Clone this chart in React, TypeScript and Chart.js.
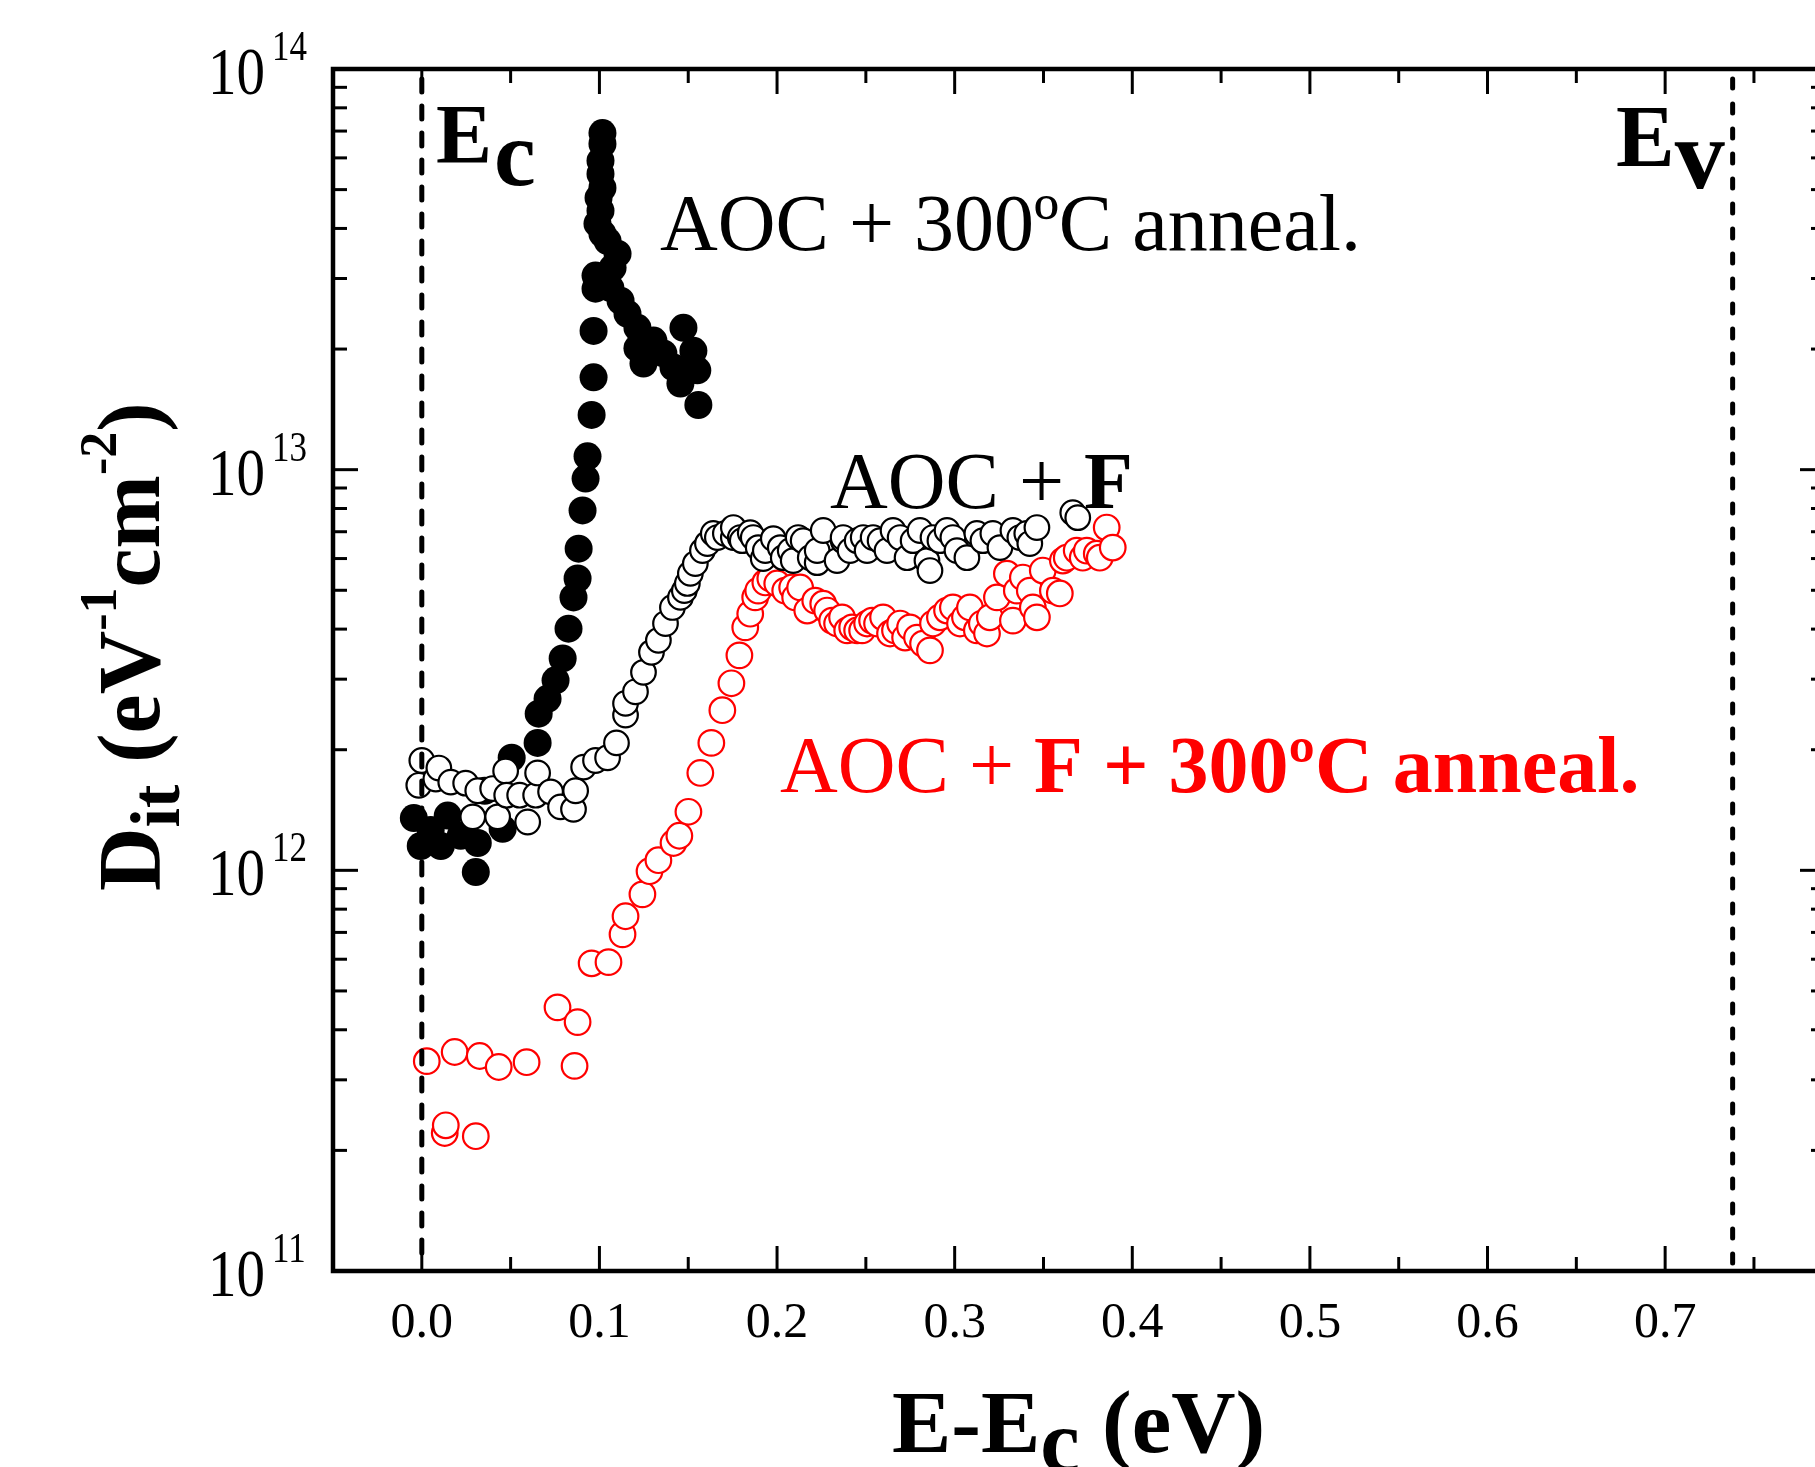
import React, { useEffect, useRef } from 'react';
import { Chart, registerables } from 'chart.js';

Chart.register(...registerables);

// ---------------- data ----------------
// AOC + 300ºC anneal. (filled black)
const filledX = [
  -0.0045, -0.0006, 0.005, 0.0107, 0.0146, 0.0219, 0.0315, 0.0304, 0.0354, 0.0455,
  0.0506, 0.0652, 0.0658, 0.0708, 0.0753, 0.0793, 0.0826, 0.0854, 0.0877, 0.0883,
  0.0905, 0.0922, 0.0933, 0.0956, 0.0967, 0.0967, 0.0978, 0.0978, 0.0989, 0.0995,
  0.1006, 0.1006, 0.1017, 0.1017, 0.1017, 0.1006, 0.1017, 0.1046, 0.1102, 0.1074,
  0.1062, 0.1119, 0.1158, 0.1214, 0.1214, 0.1248, 0.1304, 0.136, 0.1417, 0.1473,
  0.1529, 0.1551, 0.1456, 0.1557,
];
const filledY = [
  1.35e12, 1.15e12, 1.26e12, 1.15e12, 1.37e12, 1.22e12, 1.17e12, 0.99e12, 1.58e12, 1.27e12,
  1.91e12, 2.08e12, 2.46e12, 2.68e12, 2.98e12, 3.38e12, 4.01e12, 4.8e12, 5.35e12, 6.35e12,
  7.91e12, 9.5e12, 1.08e13, 1.37e13, 1.7e13, 2.22e13, 2.83e13, 3.05e13, 4.11e13, 4.77e13,
  5.47e13, 5.9e13, 6.5e13, 6.92e13, 5.05e13, 4.43e13, 3.88e13, 3.72e13, 3.46e13, 3.19e13,
  2.84e13, 2.64e13, 2.45e13, 2.26e13, 2.01e13, 1.84e13, 2.1e13, 1.95e13, 1.8e13, 2.26e13,
  1.98e13, 1.77e13, 1.64e13, 1.45e13,
];

// AOC + F (open black)
const openX = [
  -0.0017, 0.0, 0.0079, 0.0096, 0.0163, 0.0247, 0.0287, 0.0315, 0.0399, 0.0427,
  0.0472, 0.0478, 0.0551, 0.0596, 0.0641, 0.0652, 0.0725, 0.0781, 0.0854, 0.0866,
  0.0911, 0.0978, 0.1046, 0.1096, 0.1147, 0.1147, 0.1203, 0.1248, 0.1293, 0.1332,
  0.1372, 0.1411, 0.1456, 0.1478, 0.1495, 0.1512, 0.154, 0.158, 0.1608, 0.1641,
  0.1664, 0.1709, 0.1754, 0.1754, 0.1793, 0.1804, 0.1849, 0.1866, 0.1894, 0.1922,
  0.1934, 0.1979, 0.2018, 0.2035, 0.2074, 0.2091, 0.2119, 0.2147, 0.2187, 0.2226,
  0.2226, 0.226, 0.2338, 0.2372, 0.2372, 0.2411, 0.2451, 0.2485, 0.2507, 0.2541,
  0.258, 0.2619, 0.2653, 0.2693, 0.2732, 0.2766, 0.2805, 0.2844, 0.2861, 0.2878,
  0.2917, 0.2957, 0.299, 0.3013, 0.3069, 0.3125, 0.3159, 0.3215, 0.3255, 0.3328,
  0.3367, 0.3406, 0.3423, 0.3463, 0.3665, 0.3693,
];
const openY = [
  1.63e12, 1.88e12, 1.69e12, 1.8e12, 1.66e12, 1.65e12, 1.36e12, 1.58e12, 1.6e12, 1.36e12,
  1.77e12, 1.54e12, 1.54e12, 1.32e12, 1.54e12, 1.75e12, 1.57e12, 1.44e12, 1.42e12, 1.58e12,
  1.81e12, 1.88e12, 1.91e12, 2.08e12, 2.44e12, 2.61e12, 2.79e12, 3.12e12, 3.5e12, 3.75e12,
  4.13e12, 4.53e12, 4.8e12, 4.99e12, 5.2e12, 5.51e12, 5.83e12, 6.28e12, 6.54e12, 6.93e12,
  6.77e12, 6.93e12, 6.77e12, 7.17e12, 6.77e12, 6.65e12, 6.96e12, 6.77e12, 6.39e12, 6.0e12,
  6.28e12, 6.73e12, 6.39e12, 6.03e12, 6.28e12, 5.93e12, 6.77e12, 6.65e12, 6.03e12, 5.86e12,
  6.28e12, 7.05e12, 5.93e12, 6.65e12, 6.77e12, 6.28e12, 6.65e12, 6.77e12, 6.28e12, 6.77e12,
  6.65e12, 6.28e12, 7.05e12, 6.77e12, 6.03e12, 6.65e12, 7.05e12, 5.93e12, 5.6e12, 6.77e12,
  6.65e12, 7.05e12, 6.77e12, 6.28e12, 6.03e12, 6.93e12, 6.65e12, 6.93e12, 6.39e12, 7.05e12,
  6.77e12, 6.93e12, 6.54e12, 7.17e12, 7.81e12, 7.59e12,
];

// AOC + F + 300ºC anneal. (open red)
const redX = [
  0.0028, 0.0129, 0.0135, 0.0185, 0.0304, 0.0326, 0.0433, 0.059, 0.0764, 0.086,
  0.0877, 0.0956, 0.1051, 0.113, 0.1147, 0.1242, 0.1282, 0.1332, 0.1417, 0.145,
  0.1501, 0.1568, 0.163, 0.1692, 0.1743, 0.1788, 0.1821, 0.1849, 0.1877, 0.1894,
  0.1934, 0.1962, 0.2001, 0.2046, 0.2085, 0.2102, 0.213, 0.217, 0.2215, 0.226,
  0.2282, 0.231, 0.2338, 0.2366, 0.2395, 0.2423, 0.2451, 0.2479, 0.2507, 0.2535,
  0.2563, 0.2597, 0.2636, 0.2664, 0.2693, 0.2721, 0.2749, 0.2788, 0.2822, 0.2861,
  0.2878, 0.2917, 0.2957, 0.299, 0.303, 0.3058, 0.3086, 0.3125, 0.3153, 0.3182,
  0.3198, 0.3238, 0.3294, 0.3328, 0.335, 0.3384, 0.3423, 0.344, 0.3463, 0.3496,
  0.3553, 0.3592, 0.3609, 0.3631, 0.3687, 0.3721, 0.3744, 0.38, 0.3817, 0.3856, 0.389,
];
const redY = [
  3.34e11, 2.21e11, 2.31e11, 3.52e11, 2.17e11, 3.44e11, 3.23e11, 3.32e11, 4.55e11, 3.25e11,
  4.18e11, 5.86e11, 5.9e11, 6.92e11, 7.68e11, 8.71e11, 9.95e11, 1.06e12, 1.17e12, 1.22e12,
  1.4e12, 1.75e12, 2.08e12, 2.51e12, 2.93e12, 3.44e12, 4.04e12, 4.37e12, 4.8e12, 4.99e12,
  5.23e12, 5.35e12, 5.2e12, 4.99e12, 5.08e12, 4.8e12, 5.08e12, 4.45e12, 4.71e12, 4.63e12,
  4.45e12, 4.2e12, 4.13e12, 4.28e12, 3.97e12, 4.04e12, 3.97e12, 3.97e12, 4.13e12, 4.2e12,
  4.13e12, 4.28e12, 3.9e12, 3.97e12, 4.13e12, 3.81e12, 4.04e12, 3.81e12, 3.68e12, 3.54e12,
  4.13e12, 4.28e12, 4.45e12, 4.53e12, 4.13e12, 4.28e12, 4.53e12, 3.97e12, 4.13e12, 3.9e12,
  4.28e12, 4.8e12, 5.5e12, 4.2e12, 4.99e12, 5.38e12, 4.99e12, 4.53e12, 4.28e12, 5.6e12,
  4.99e12, 4.91e12, 5.93e12, 6.03e12, 6.28e12, 6.03e12, 6.28e12, 6.17e12, 6.03e12, 7.17e12, 6.39e12,
];

// axes
const xMin = -0.05;
const xMax = 0.79;
const yMin = 1e11;
const yMax = 1e14;
const xMajorTicks = [0, 0.1, 0.2, 0.3, 0.4, 0.5, 0.6, 0.7];
const xTickLabels = ['0.0', '0.1', '0.2', '0.3', '0.4', '0.5', '0.6', '0.7'];
const xMinorTicks = [0.05, 0.15, 0.25, 0.35, 0.45, 0.55, 0.65, 0.75];
const yMajorTicks = [1e11, 1e12, 1e13, 1e14];
const yTickExponents = ['11', '12', '13', '14'];
const EcValue = 0;
const EvValue = 0.738;

// ---------------- drawing helpers ----------------
const W = 1840;
const H = 1467;
const FONT = '"Liberation Serif", "Times New Roman", serif';

type Seg = { t: string; size: number; bold?: boolean; dy?: number; sy?: number; gap?: number };

function drawRich(ctx: CanvasRenderingContext2D, x: number, y: number, segs: Seg[], color: string) {
  ctx.fillStyle = color;
  ctx.textAlign = 'left';
  ctx.textBaseline = 'alphabetic';
  let cx = x;
  for (const s of segs) {
    ctx.font = `${s.bold ? 'bold ' : ''}${s.size}px ${FONT}`;
    ctx.save();
    ctx.translate(cx, y + (s.dy || 0));
    ctx.scale(1, s.sy || 1);
    ctx.fillText(s.t, 0, 0);
    ctx.restore();
    cx += ctx.measureText(s.t).width + (s.gap || 0);
  }
  return cx - x;
}

export default function App() {
  const ref = useRef<HTMLCanvasElement>(null);

  useEffect(() => {
    const canvas = ref.current;
    if (!canvas) return;

    const overlay = {
      id: 'overlay',
      afterDatasetsDraw(chart: any) {
        const ctx: CanvasRenderingContext2D = chart.ctx;
        const xs = chart.scales.x;
        const ys = chart.scales.y;
        const { left, right, top, bottom } = chart.chartArea;
        ctx.save();

        // Ec / Ev dashed lines
        ctx.strokeStyle = '#000';
        ctx.lineWidth = 5;
        ctx.lineCap = 'round';
        const dashLine = (v: number, dash: number[]) => {
          const px = xs.getPixelForValue(v);
          ctx.setLineDash(dash);
          ctx.beginPath();
          ctx.moveTo(px, top + 10);
          ctx.lineTo(px, bottom - 6);
          ctx.stroke();
        };
        dashLine(EcValue, [13, 14]);
        dashLine(EvValue, [9, 16]);
        ctx.setLineDash([]);
        ctx.lineCap = 'butt';

        // ticks
        ctx.lineWidth = 3;
        const tick = (x1: number, y1: number, x2: number, y2: number) => {
          ctx.beginPath();
          ctx.moveTo(x1, y1);
          ctx.lineTo(x2, y2);
          ctx.stroke();
        };
        for (const v of xMajorTicks) {
          const px = xs.getPixelForValue(v);
          tick(px, bottom, px, bottom - 25);
          tick(px, top, px, top + 25);
        }
        for (const v of xMinorTicks) {
          const px = xs.getPixelForValue(v);
          tick(px, bottom, px, bottom - 14);
          tick(px, top, px, top + 14);
        }
        for (const v of yMajorTicks) {
          const py = ys.getPixelForValue(v);
          tick(left, py, left + 25, py);
          tick(right, py, right - 25, py);
        }
        for (let e = 11; e < 14; e++) {
          for (let k = 2; k <= 9; k++) {
            const py = ys.getPixelForValue(k * Math.pow(10, e));
            tick(left, py, left + 14, py);
            tick(right, py, right - 14, py);
          }
        }

        // frame
        ctx.lineWidth = 4.5;
        ctx.lineJoin = 'miter';
        ctx.strokeRect(left, top, right - left, bottom - top);

        // x tick labels
        ctx.fillStyle = '#000';
        ctx.font = `50px ${FONT}`;
        ctx.textAlign = 'center';
        ctx.textBaseline = 'alphabetic';
        xMajorTicks.forEach((v, i) => {
          ctx.fillText(xTickLabels[i], xs.getPixelForValue(v), bottom + 66);
        });

        // y tick labels 10^n
        yMajorTicks.forEach((v, i) => {
          const py = ys.getPixelForValue(v);
          ctx.font = `57px ${FONT}`;
          const w = ctx.measureText('10').width;
          drawRich(ctx, 265 - w, py + 25, [{ t: '10', size: 57, sy: 1.19 }], '#000');
          drawRich(ctx, 272, py - 9, [{ t: yTickExponents[i], size: 35, sy: 1.18 }], '#000');
        });

        // axis titles
        drawRich(ctx, 892, 1452, [
          { t: 'E-E', size: 89, bold: true },
          { t: 'c', size: 89, bold: true, dy: 19 },
          { t: ' (eV)', size: 89, bold: true },
        ], '#000');

        ctx.save();
        ctx.translate(159, 891);
        ctx.rotate(-Math.PI / 2);
        drawRich(ctx, 0, 0, [
          { t: 'D', size: 88, bold: true },
          { t: 'it', size: 70, bold: true, dy: 20 },
          { t: ' (eV', size: 88, bold: true },
          { t: '-1', size: 52, bold: true, dy: -43 },
          { t: 'cm', size: 88, bold: true },
          { t: '-2', size: 52, bold: true, dy: -43 },
          { t: ')', size: 88, bold: true },
        ], '#000');
        ctx.restore();

        // annotations
        drawRich(ctx, 436, 163, [
          { t: 'E', size: 84, bold: true, gap: 2 },
          { t: 'c', size: 94, bold: true, dy: 22 },
        ], '#000');
        drawRich(ctx, 1616, 166, [
          { t: 'E', size: 88, bold: true },
          { t: 'v', size: 100, bold: true, dy: 22 },
        ], '#000');
        drawRich(ctx, 660, 250, [{ t: 'AOC + 300ºC anneal.', size: 80 }], '#000');
        drawRich(ctx, 830, 508, [
          { t: 'AOC + ', size: 80 },
          { t: 'F', size: 80, bold: true },
        ], '#000');
        drawRich(ctx, 780, 792, [
          { t: 'AOC + ', size: 80 },
          { t: 'F + 300ºC anneal.', size: 80, bold: true },
        ], '#ff0000');

        ctx.restore();
      },
    };

    const toPts = (xs: number[], ys: number[]) => xs.map((x, i) => ({ x, y: ys[i] }));

    const chart = new Chart(canvas, {
      type: 'scatter',
      data: {
        datasets: [
          {
            label: 'AOC + F',
            data: toPts(openX, openY),
            pointRadius: 12.3,
            pointBorderWidth: 2.2,
            pointBackgroundColor: '#ffffff',
            pointBorderColor: '#000000',
          },
          {
            label: 'AOC + 300ºC anneal.',
            data: toPts(filledX, filledY),
            pointRadius: 14,
            pointBorderWidth: 0,
            pointBackgroundColor: '#000000',
            pointBorderColor: '#000000',
          },
          {
            label: 'AOC + F + 300ºC anneal.',
            data: toPts(redX, redY),
            pointRadius: 12.8,
            pointBorderWidth: 2.2,
            pointBackgroundColor: '#ffffff',
            pointBorderColor: '#ff0000',
          },
        ],
      },
      options: {
        animation: false,
        responsive: false,
        devicePixelRatio: 1,
        layout: { padding: { left: 333, top: 69, right: W - 1827, bottom: H - 1271 } },
        plugins: { legend: { display: false }, tooltip: { enabled: false } },
        events: [],
        scales: {
          x: { type: 'linear', min: xMin, max: xMax, display: false },
          y: { type: 'logarithmic', min: yMin, max: yMax, display: false },
        },
      },
      plugins: [overlay],
    } as any);

    return () => chart.destroy();
  }, []);

  return (
    <div
      style={{
        position: 'absolute',
        left: 0,
        top: 0,
        width: 1815,
        height: 1467,
        overflow: 'hidden',
        background: '#ffffff',
      }}
    >
      <canvas ref={ref} width={W} height={H} style={{ width: W, height: H, display: 'block' }} />
    </div>
  );
}
